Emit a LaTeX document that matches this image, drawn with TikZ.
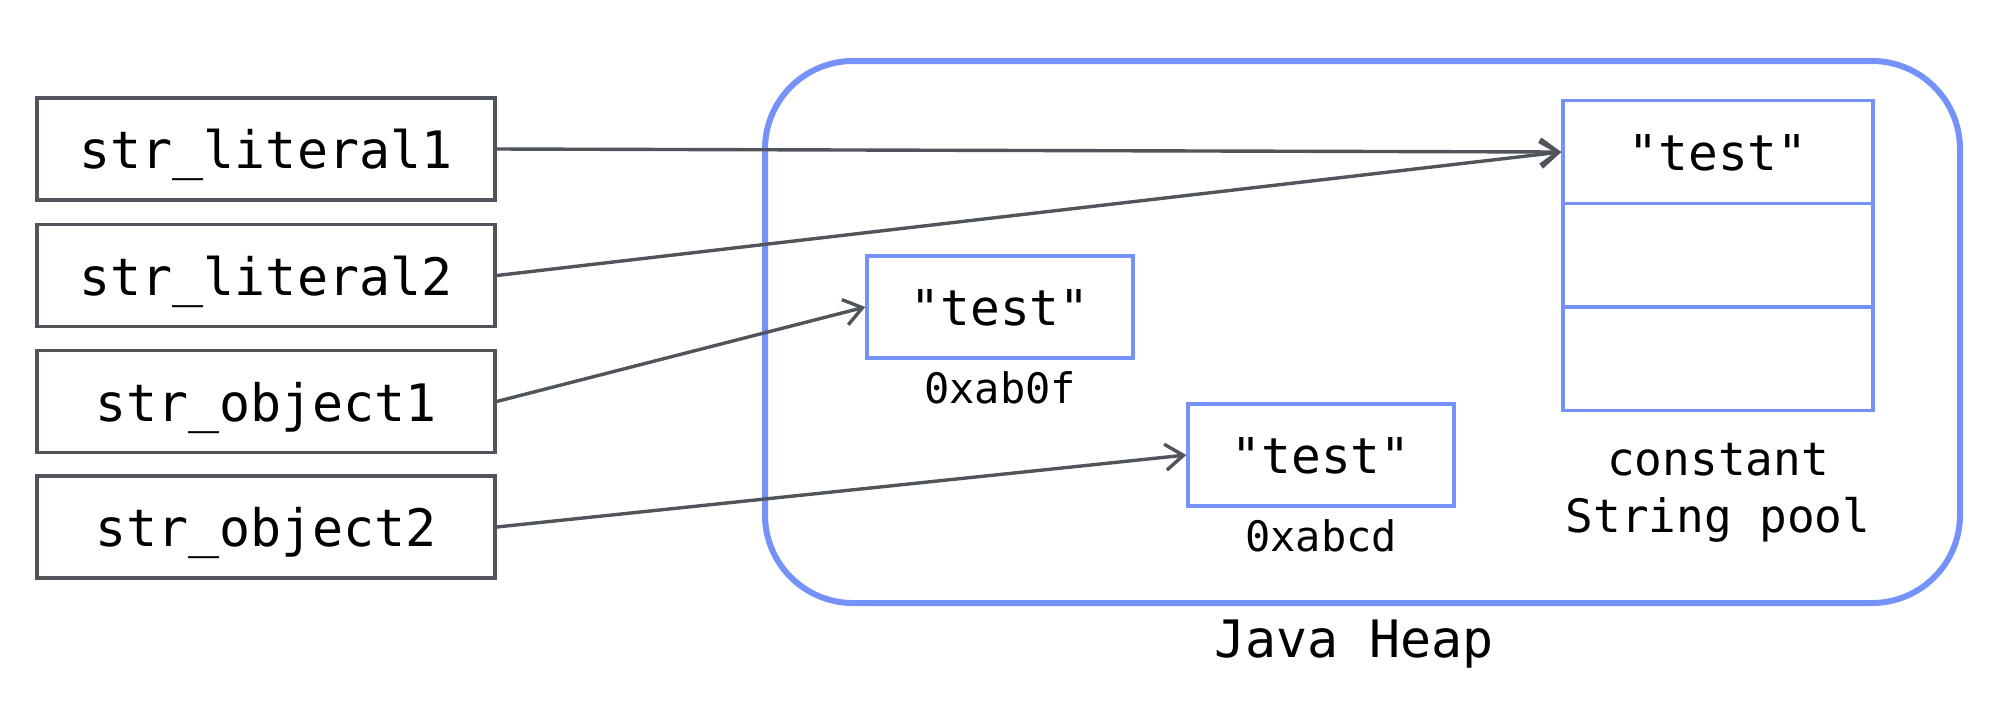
\documentclass[tikz,border=0pt]{standalone}
\usepackage{fontspec}
\setmonofont{DejaVu Sans Mono}
\usetikzlibrary{arrows.meta}
\definecolor{edgegray}{RGB}{80,85,92}
\definecolor{heapblue}{RGB}{117,146,250}
\begin{document}
\begin{tikzpicture}[x=0.5pt,y=-0.5pt,
  varbox/.style={draw=edgegray,line width=1.7pt,minimum width=229pt,minimum height=51pt,inner sep=0pt,
    text height=19.6pt,text depth=0pt,font=\ttfamily\fontsize{25.8pt}{31pt}\selectfont},
  cellbox/.style={draw=heapblue,line width=1.7pt,minimum width=155pt,minimum height=51.5pt,inner sep=0pt,
    text height=18.8pt,text depth=0pt,font=\ttfamily\fontsize{24.7pt}{30pt}\selectfont},
  objbox/.style={draw=heapblue,line width=1.7pt,minimum width=133pt,minimum height=51pt,inner sep=0pt,
    text height=18.8pt,text depth=0pt,font=\ttfamily\fontsize{24.7pt}{30pt}\selectfont},
  addrlbl/.style={anchor=base,inner sep=0pt,font=\ttfamily\fontsize{21pt}{25pt}\selectfont},
  poollbl/.style={anchor=base,inner sep=0pt,font=\ttfamily\fontsize{23pt}{28pt}\selectfont},
  heaplbl/.style={anchor=base,inner sep=0pt,font=\ttfamily\fontsize{25.8pt}{31pt}\selectfont},
  heapbox/.style={draw=heapblue,line width=3pt,rounded corners=44pt,minimum width=597.5pt,minimum height=271pt,inner sep=0pt},
  arr/.style={draw=edgegray,line width=1.7pt,-{Straight Barb[length=9pt,width=13pt]}}
]
\useasboundingbox (0,0) rectangle (1999,714);
% heap
\node[heapbox] (heap) at (1362.5,332) {};
\node[heaplbl] (heaplabel) at (1354,657) {Java Heap};
% variables
\node[varbox] (lit1) at (266,149) {str\_literal1};
\node[varbox] (lit2) at (266,275.5) {str\_literal2};
\node[varbox] (obj1) at (266,401.5) {str\_object1};
\node[varbox] (obj2) at (266,527) {str\_object2};
% pool
\node[cellbox] (c1) at (1718,152) {"test"};
\node[cellbox] (c2) at (1718,255) {};
\node[cellbox] (c3) at (1718,359) {};
\node[poollbl] (pl1) at (1718,475) {constant};
\node[poollbl] (pl2) at (1718,532) {String pool};
% objects
\node[objbox] (t1) at (1000,307) {"test"};
\node[addrlbl] (a1) at (1000,403) {0xab0f};
\node[objbox] (t2) at (1321,455) {"test"};
\node[addrlbl] (a2) at (1321,551) {0xabcd};
% arrows
\draw[arr] (lit1.east) -- (c1.west);
\draw[arr] (lit2.east) -- (c1.west);
\draw[arr] (obj1.east) -- (t1.west);
\draw[arr] (obj2.east) -- (t2.west);
\end{tikzpicture}
\end{document}
